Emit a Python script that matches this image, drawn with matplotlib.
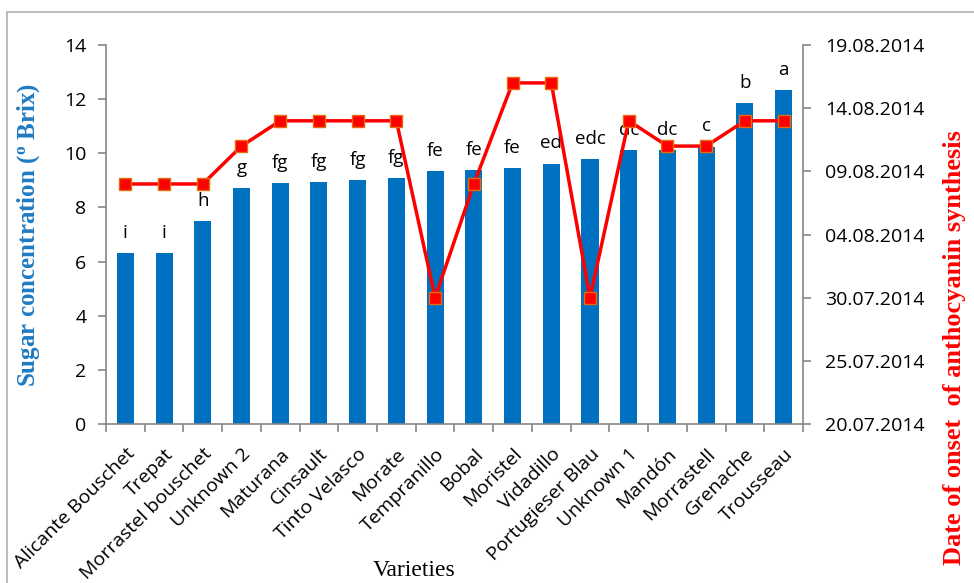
import matplotlib
matplotlib.use("Agg")
import matplotlib.pyplot as plt
import matplotlib.dates as mdates
import pandas as pd
from matplotlib.patches import Rectangle

# data
varieties = ["Alicante Bouschet", "Trepat", "Morrastel bouschet", "Unknown 2",
             "Maturana", "Cinsault", "Tinto Velasco", "Morate", "Tempranillo",
             "Bobal", "Moristel", "Vidadillo", "Portugieser Blau", "Unknown 1",
             "Mandón", "Morrastell", "Grenache", "Trousseau"]
sugar_brix = [6.3, 6.3, 7.5, 8.72, 8.9, 8.95, 9.01, 9.1, 9.36, 9.39, 9.46,
              9.62, 9.8, 10.11, 10.11, 10.25, 11.85, 12.32]
letters = ["i", "i", "h", "g", "fg", "fg", "fg", "fg", "fe", "fe", "fe",
           "ed", "edc", "dc", "dc", "c", "b", "a"]
onset_dates = ["08.08.2014", "08.08.2014", "08.08.2014", "11.08.2014",
               "13.08.2014", "13.08.2014", "13.08.2014", "13.08.2014",
               "30.07.2014", "08.08.2014", "16.08.2014", "16.08.2014",
               "30.07.2014", "13.08.2014", "11.08.2014", "11.08.2014",
               "13.08.2014", "13.08.2014"]

onset = mdates.date2num(pd.to_datetime(onset_dates, format="%d.%m.%Y"))
x = list(range(len(varieties)))

plt.rcParams["font.family"] = ["Open Sans", "DejaVu Sans"]
grey = "#868686"

fig = plt.figure(figsize=(9.74, 5.83), dpi=100)
fig.patches.append(Rectangle((7 / 974, -0.01), 1.0, 1 - 12 / 583 + 0.01,
                             transform=fig.transFigure, fill=False,
                             edgecolor="#b0b0b0", linewidth=1.2))
ax = fig.add_axes([0.1088, 0.2727, 0.7156, 0.6501])

ax.bar(x, sugar_brix, width=0.44, color="#0070C0", zorder=2)
for xi, v, lab in zip(x, sugar_brix, letters):
    ax.annotate(lab, (xi, v), xytext=(0, 8), textcoords="offset points",
                ha="center", va="bottom", fontsize=13.5, color="black")

ax.set_xlim(-0.5, len(varieties) - 0.5)
ax.set_ylim(0, 14)
ax.set_yticks(range(0, 15, 2))
ax.set_xticks(x)
ax.set_xticklabels(varieties, rotation=45, ha="right", va="top",
                   rotation_mode="anchor", fontsize=14)
ax.set_xticks([i - 0.5 for i in range(len(varieties) + 1)], minor=True)
ax.tick_params(axis="x", which="major", length=0, pad=15)
ax.tick_params(axis="x", which="minor", length=6, color=grey, width=1.2)
ax.tick_params(axis="y", length=6, color=grey, width=1.2, labelsize=14, pad=8)
for s in ["top", "right"]:
    ax.spines[s].set_visible(False)
for s in ["left", "bottom"]:
    ax.spines[s].set_color(grey)
    ax.spines[s].set_linewidth(1.2)

ax.set_ylabel("Sugar concentration ($\\mathregular{^o}$ Brix)", color="#1F7BC2",
              fontsize=18, fontweight="bold", family="Liberation Serif")
ax.yaxis.set_label_coords(-0.092, 0.5)
ax.set_xlabel("Varieties", fontsize=17, family="Liberation Serif")
ax.xaxis.set_label_coords(0.442, -0.359)

ax2 = ax.twinx()
ax2.plot(x, onset, color="#FF0000", linewidth=2.5, marker="s", markersize=9,
         markerfacecolor="#FF0000", markeredgecolor="#E46C0A", markeredgewidth=1,
         zorder=3)
ax2.set_ylim(mdates.date2num(pd.Timestamp("2014-07-20")),
             mdates.date2num(pd.Timestamp("2014-08-19")))
ax2.set_yticks(mdates.date2num(pd.date_range("2014-07-20", "2014-08-19", freq="5D")))
ax2.yaxis.set_major_formatter(mdates.DateFormatter("%d.%m.%Y"))
ax2.tick_params(axis="y", length=6, color=grey, width=1.2, labelsize=14, pad=10)
for s in ["top", "left", "bottom"]:
    ax2.spines[s].set_visible(False)
ax2.spines["right"].set_color(grey)
ax2.spines["right"].set_linewidth(1.2)
ax2.set_ylabel("Date of onset  of anthocyanin synthesis", color="#FF0000",
               fontsize=19, fontweight="bold", family="Liberation Serif")
ax2.yaxis.set_label_coords(1.201, 0.203)

fig.savefig("out.png", dpi=100)
